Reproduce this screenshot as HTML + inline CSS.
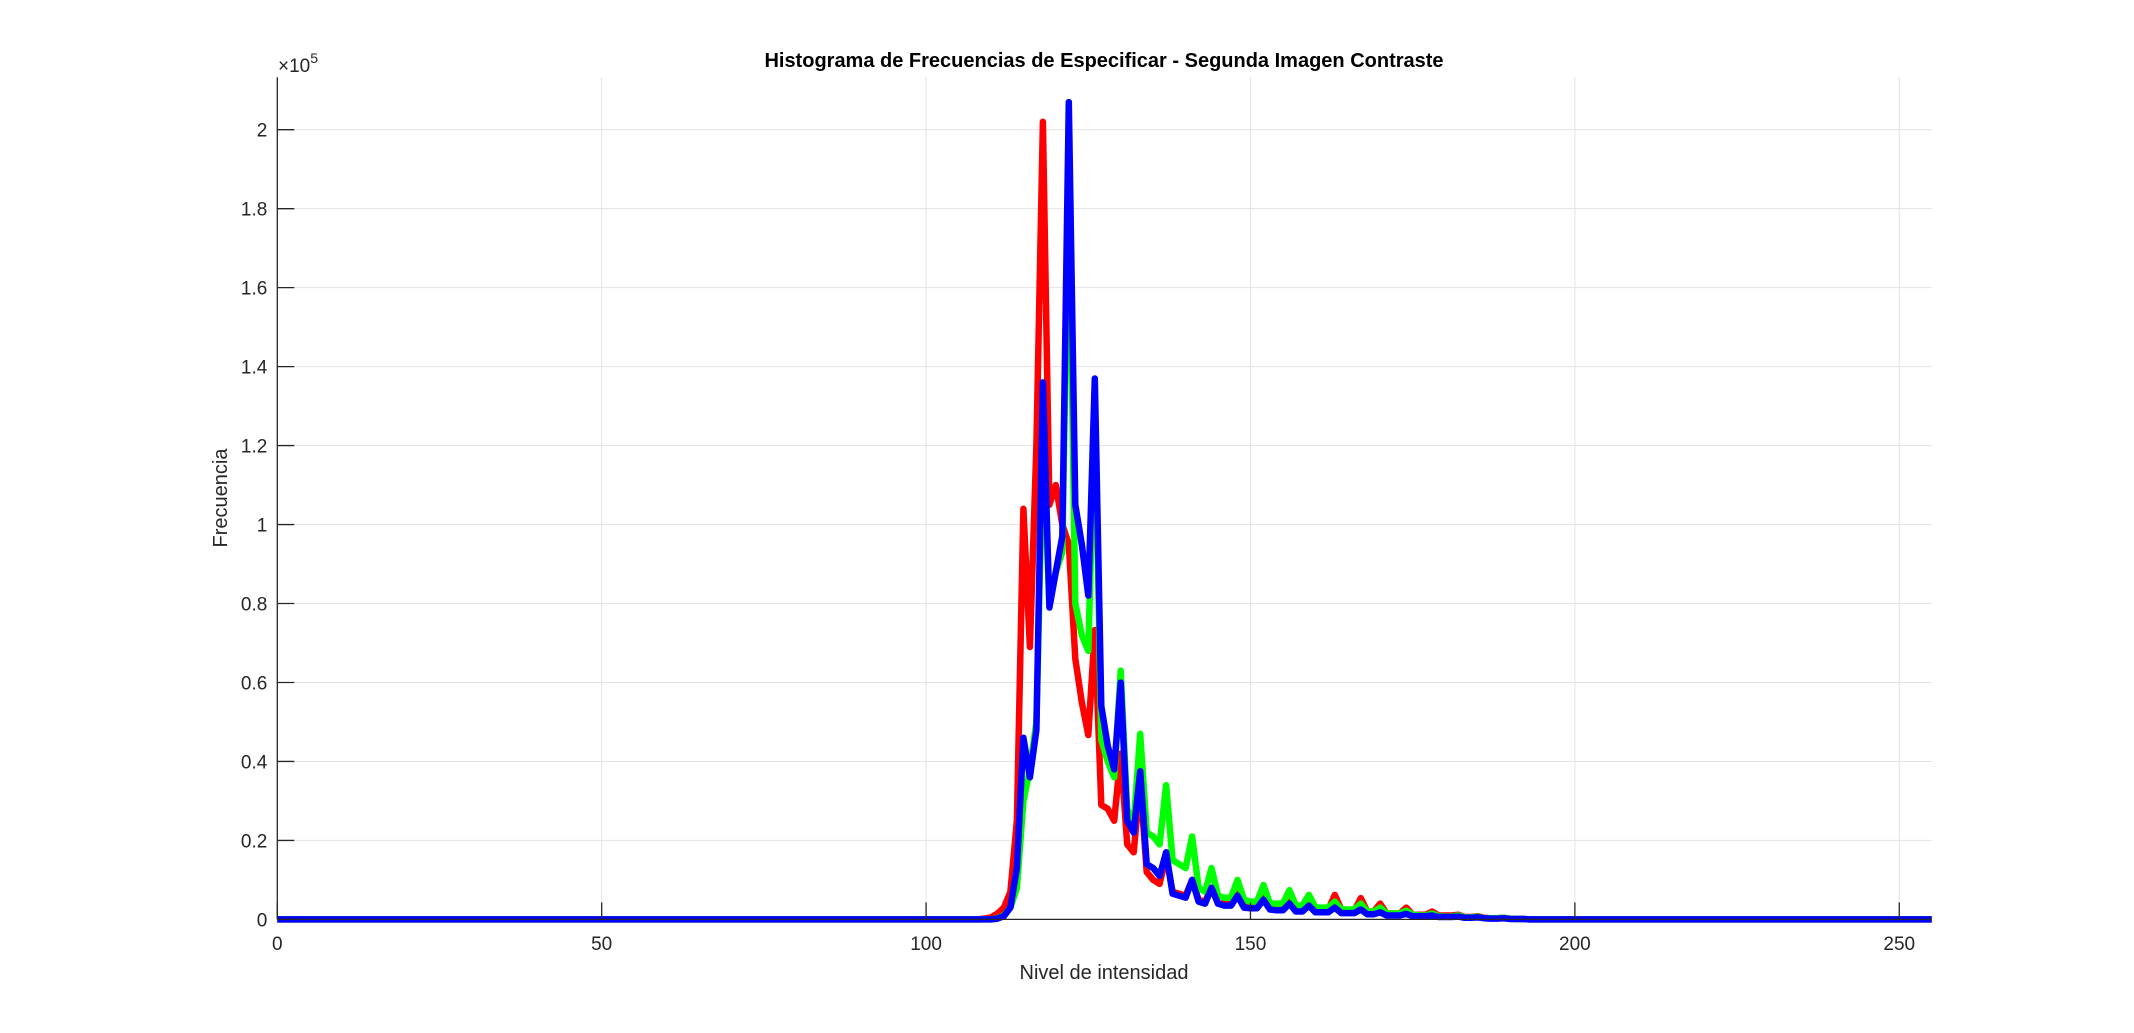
<!DOCTYPE html>
<html><head><meta charset="utf-8"><style>
html,body{margin:0;padding:0;background:#fff;}
svg{display:block;font-family:"Liberation Sans",Arial,sans-serif;}
</style></head><body>
<svg id="chart" width="2134" height="1033" viewBox="0 0 2134 1033" xmlns="http://www.w3.org/2000/svg">
<rect width="2134" height="1033" fill="#fff"/>
<g id="grid"></g>
<g id="series"></g>
<g id="axes"></g>
<text x="1104" y="67" text-anchor="middle" font-size="20" font-weight="bold" fill="#000">Histograma de Frecuencias de Especificar - Segunda Imagen Contraste</text>
<text x="1104" y="979" text-anchor="middle" font-size="20" fill="#262626">Nivel de intensidad</text>
<text transform="translate(227,498) rotate(-90)" text-anchor="middle" font-size="20" fill="#262626">Frecuencia</text>
<text x="278" y="72" font-size="19" fill="#262626">×10<tspan dy="-9" font-size="14">5</tspan></text>
</svg>
<script>
const startLevel = 105;
const red = [0,0,0,0,0.002,0.005,0.015,0.03,0.07,0.25,1.04,0.69,1.2,2.02,1.05,1.1,1.0,0.95,0.66,0.55,0.467,0.733,0.29,0.28,0.25,0.42,0.19,0.17,0.35,0.12,0.1,0.09,0.16,0.07,0.065,0.06,0.1,0.05,0.045,0.08,0.04,0.04,0.04,0.065,0.035,0.033,0.033,0.055,0.03,0.03,0.03,0.045,0.028,0.027,0.04,0.025,0.025,0.025,0.062,0.025,0.022,0.022,0.054,0.02,0.02,0.04,0.015,0.015,0.015,0.03,0.012,0.012,0.012,0.02,0.01,0.01,0.01,0.012,0.006,0.006,0.008,0.004,0.003,0.003,0.004,0.002,0.001,0.001,0,0,0];
const green = [0,0,0,0,0,0,0.003,0.01,0.03,0.08,0.3,0.38,0.5,1.2,0.8,0.88,0.93,1.9,0.8,0.72,0.68,1.3,0.455,0.4,0.36,0.63,0.28,0.24,0.47,0.22,0.21,0.19,0.34,0.15,0.14,0.13,0.21,0.08,0.07,0.13,0.06,0.055,0.055,0.1,0.05,0.045,0.045,0.087,0.04,0.04,0.04,0.074,0.035,0.035,0.062,0.03,0.03,0.03,0.045,0.025,0.025,0.025,0.04,0.02,0.02,0.03,0.015,0.015,0.015,0.022,0.012,0.01,0.01,0.015,0.008,0.007,0.007,0.01,0.005,0.005,0.007,0.003,0.003,0.003,0.004,0.002,0.001,0.001,0,0,0];
const blue = [0,0,0,0,0,0,0.002,0.008,0.03,0.13,0.46,0.36,0.48,1.36,0.79,0.88,0.97,2.07,1.05,0.95,0.82,1.37,0.54,0.44,0.38,0.6,0.25,0.22,0.375,0.14,0.13,0.11,0.17,0.065,0.06,0.055,0.1,0.045,0.04,0.08,0.04,0.035,0.035,0.06,0.03,0.028,0.028,0.05,0.025,0.023,0.023,0.04,0.02,0.02,0.035,0.018,0.018,0.018,0.03,0.016,0.016,0.016,0.025,0.013,0.013,0.018,0.01,0.01,0.01,0.014,0.008,0.008,0.008,0.01,0.006,0.006,0.006,0.007,0.004,0.004,0.005,0.003,0.002,0.002,0.003,0.001,0.001,0.001,0,0,0];
const xTicks = [0,50,100,150,200,250];
const yTicks = [0,0.2,0.4,0.6,0.8,1,1.2,1.4,1.6,1.8,2];
const yTickLabels = ["0","0.2","0.4","0.6","0.8","1","1.2","1.4","1.6","1.8","2"];

const NS = "http://www.w3.org/2000/svg";
const L = 277.3, R = 1931.7, B = 919.4, T = 77.3;
const xMax = 255, yMax = (B - T) / 394.85;
function sx(v){ return L + v / xMax * (R - L); }
function sy(v){ return B - v / yMax * (B - T); }
function mk(tag, attrs, parent){ const e = document.createElementNS(NS, tag); for (const k in attrs) e.setAttribute(k, attrs[k]); parent.appendChild(e); return e; }
const grid = document.getElementById('grid'), axes = document.getElementById('axes'), series = document.getElementById('series');

xTicks.forEach(t => {
  const g = mk('line', {x1:sx(t), x2:sx(t), y1:T, y2:B, stroke:'#e3e3e3', 'stroke-width':1}, grid);
  
  
  const tk = mk('line', {x1:sx(t), x2:sx(t), y1:B, y2:B-17, stroke:'#262626', 'stroke-width':1.3}, axes);
  
  
  const lb = mk('text', {x:sx(t), y:950, 'text-anchor':'middle', 'font-size':19, fill:'#262626'}, axes);
  lb.textContent = String(t);
  
  
});
yTicks.forEach((t, i) => {
  const g = mk('line', {x1:L, x2:R, y1:sy(t), y2:sy(t), stroke:'#e3e3e3', 'stroke-width':1}, grid);
  
  
  const tk = mk('line', {x1:L, x2:L+17, y1:sy(t), y2:sy(t), stroke:'#262626', 'stroke-width':1.3}, axes);
  
  
  const lb = mk('text', {x:L-10, y:sy(t)+7, 'text-anchor':'end', 'font-size':19, fill:'#262626'}, axes);
  lb.textContent = yTickLabels[i];
  
  
});
const xa = mk('line', {x1:L, x2:R, y1:B, y2:B, stroke:'#262626', 'stroke-width':1.3}, axes);


const ya = mk('line', {x1:L, x2:L, y1:T, y2:B, stroke:'#262626', 'stroke-width':1.3}, axes);



function val(arr, lvl){ const i = lvl - startLevel; return (i >= 0 && i < arr.length) ? arr[i] : 0; }
[[red,'#ff0000','red-channel-line'],[green,'#00ff00','green-channel-line'],[blue,'#0000ff','blue-channel-line']].forEach(s => {
  const pts = [];
  for (let lvl = 0; lvl <= 255; lvl++) pts.push(sx(lvl).toFixed(1) + ',' + sy(val(s[0], lvl)).toFixed(1));
  const p = mk('polyline', {points:pts.join(' '), fill:'none', stroke:s[1], 'stroke-width':6.5, 'stroke-linejoin':'round'}, series);
  
  
});
</script>
</body></html>
